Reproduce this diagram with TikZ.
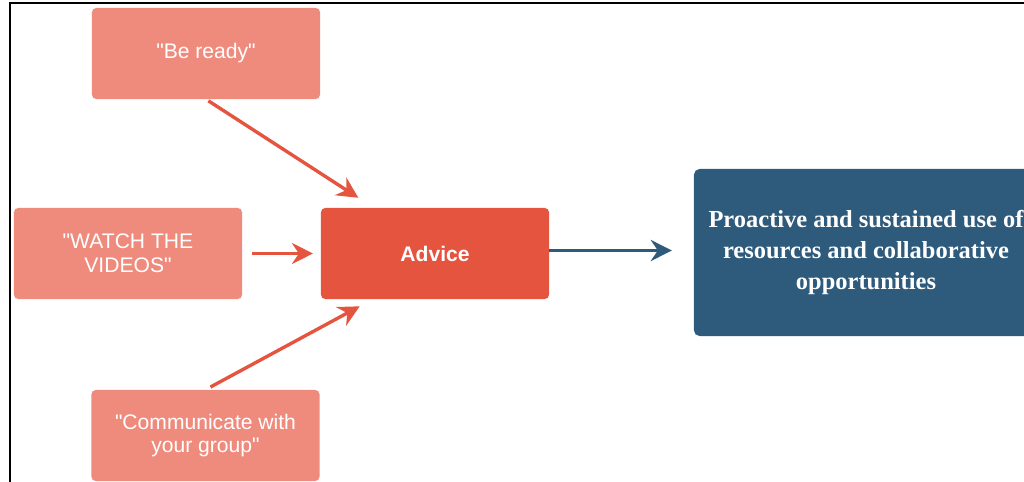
\documentclass[tikz,border=0pt]{standalone}
\usepackage{fontspec}
\usetikzlibrary{arrows.meta,calc}
\newfontfamily\arialfont{Liberation Sans}
\newfontfamily\timesfont{Liberation Serif}
\definecolor{quotebox}{RGB}{239,139,125}
\definecolor{advicebox}{RGB}{229,84,62}
\definecolor{outcomebox}{RGB}{46,90,124}
\tikzset{
  quote/.style={fill=quotebox, rounded corners=3pt, minimum width=5.7cm, minimum height=2.275cm,
    text=white, align=center, font=\arialfont\fontsize{15}{17}\selectfont},
  adv/.style={quote, fill=advicebox, font=\arialfont\bfseries\fontsize{15}{17}\selectfont},
  outcome/.style={fill=outcomebox, rounded corners=4pt, minimum width=8.6cm, minimum height=4.175cm,
    text=white, align=center, font=\timesfont\bfseries\fontsize{17.4}{22}\selectfont},
  redarrow/.style={draw=advicebox, line width=2.4pt, -{Stealth[length=15pt,width=15pt,inset=5pt]}},
  bluearrow/.style={redarrow, draw=outcomebox}
}
\begin{document}
\begin{tikzpicture}[x=0.025cm,y=-0.025cm]
            \useasboundingbox (0,0) rectangle (1024,481);
            \clip (0,0) rectangle (1024,481);
            \draw[line width=1.5pt] (10,483) -- (10,3) -- (1026,3); % Rahmen
            \node[quote] (ready) at (206,53.5) {"Be ready"};
            \node[quote] (watch) at (128,253.5) {"WATCH THE\\VIDEOS"};
            \node[quote] (communicate) at (205.5,435.5) {"Communicate with\\your group"};
            \node[adv] (advice) at (435,253.5) {Advice};
            \node[outcome] (outcome) at (866,252.5) {Proactive and sustained use of\\resources and collaborative\\opportunities};
            \draw[redarrow][shorten <=2pt, shorten >=13pt] (ready.south) -- ($(advice.north west)+(53,0)$);
            \draw[redarrow][shorten <=7pt, shorten >=5.5pt] (watch.east) -- (advice.west);
            \draw[redarrow][shorten <=4pt, shorten >=10.5pt] (communicate.north) -- ($(advice.south west)+(52,0)$);
            \draw[bluearrow][shorten >=15.5pt] ($(advice.east)+(0,-3)$) -- ($(outcome.west)+(0,-2)$);
        \end{tikzpicture}
\end{document}
